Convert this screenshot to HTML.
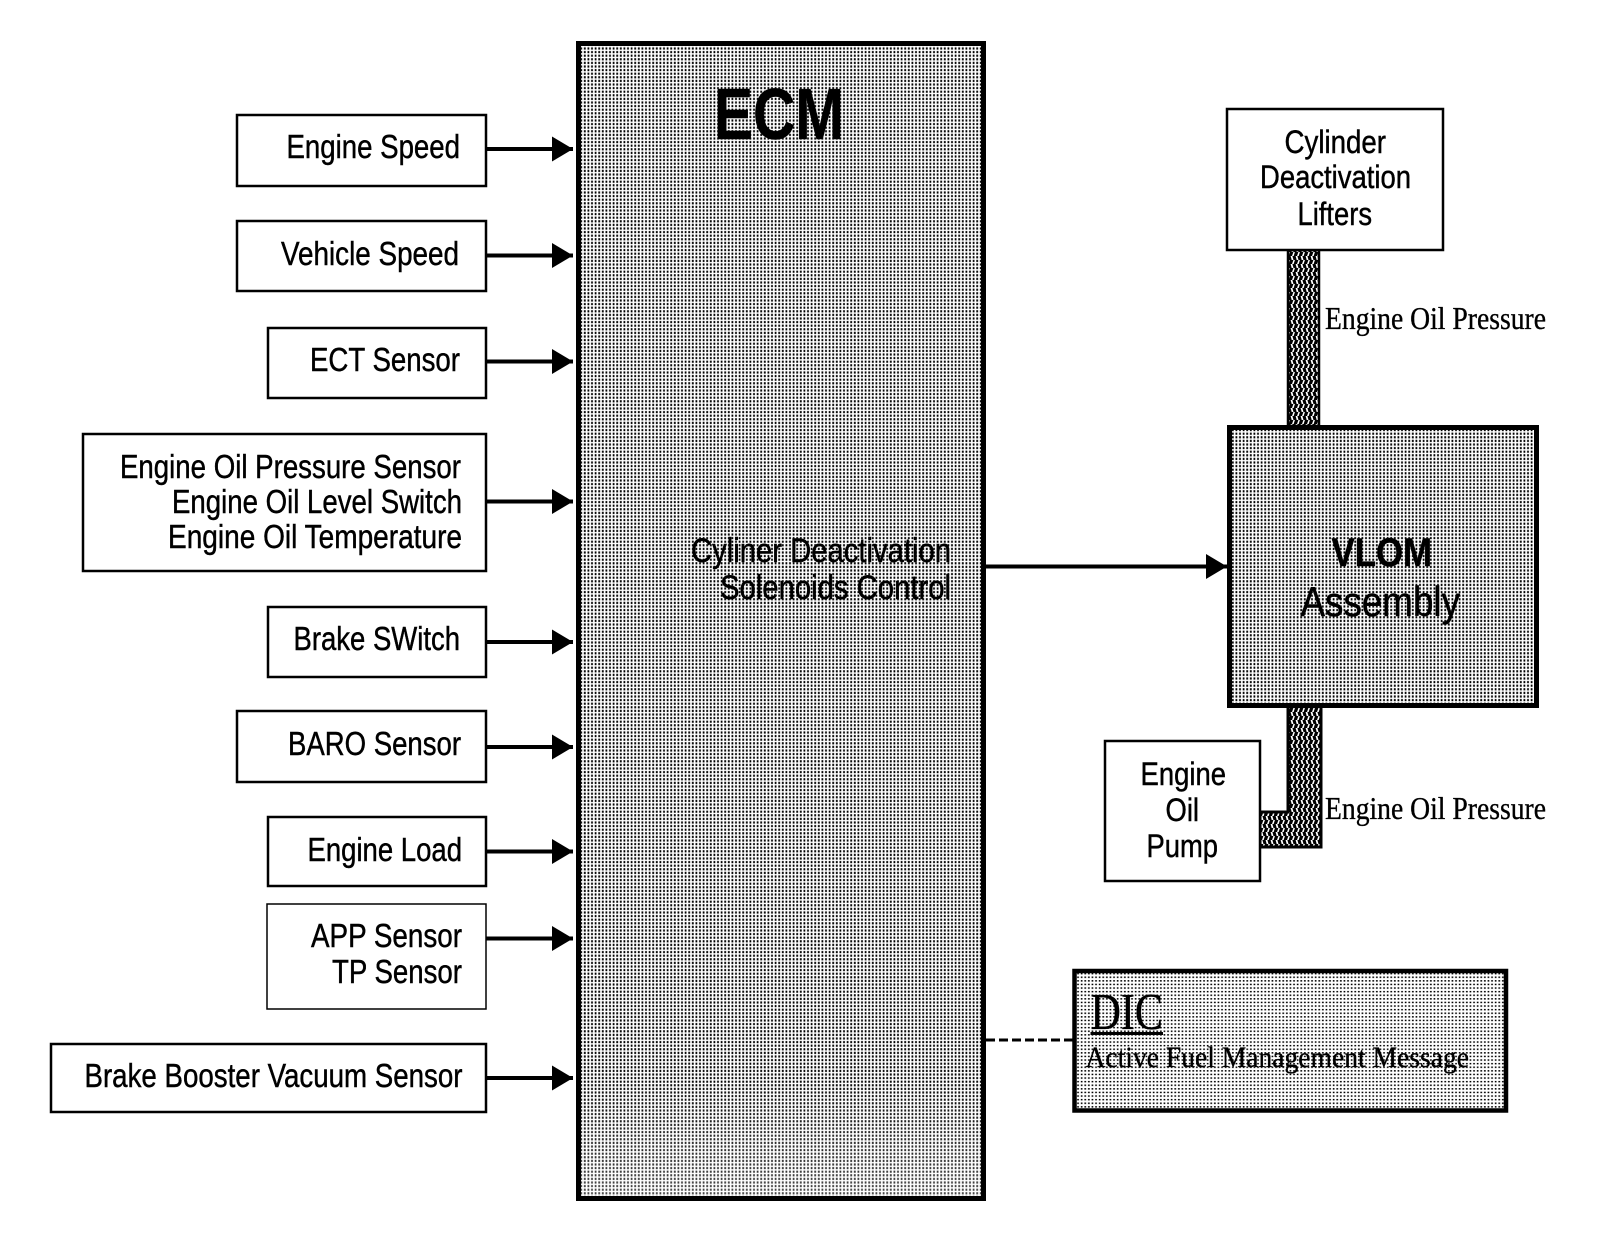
<!DOCTYPE html>
<html><head><meta charset="utf-8"><style>
html,body{margin:0;padding:0;background:#fff}
svg{display:block}
.s{font-family:"Liberation Sans",sans-serif;fill:#000;stroke:#000;stroke-width:.45}
.r{font-family:"Liberation Serif",serif;fill:#000;stroke:#000;stroke-width:.35}
</style></head><body>
<svg width="1600" height="1244" viewBox="0 0 1600 1244" xmlns="http://www.w3.org/2000/svg">
<defs>
<pattern id="m" width="3.6" height="3.6" patternUnits="userSpaceOnUse"><rect width="3.6" height="3.6" fill="#fff"/><rect x="0.7" y="0.6" width="1.8" height="2.2" fill="#000"/></pattern>
<pattern id="d" width="3.6" height="3.6" patternUnits="userSpaceOnUse"><rect width="3.6" height="3.6" fill="#fff"/><rect x="0.8" y="0.9" width="1.7" height="1.5" fill="#000"/></pattern>
<pattern id="p" width="5" height="8" patternUnits="userSpaceOnUse"><rect width="5" height="8" fill="#000"/><path d="M0.6 0h1.8l1.1 4h-1.8zM3.4 4h1.5l-1.2 4h-1.7z" fill="#fff"/></pattern>
<linearGradient id="f" x1="0" y1="0" x2="0" y2="1"><stop offset="0" stop-color="#fff" stop-opacity="0"/><stop offset="1" stop-color="#fff" stop-opacity=".28"/></linearGradient>
<marker id="a" markerUnits="userSpaceOnUse" markerWidth="22" markerHeight="26" refX="21" refY="12.5" orient="auto"><path d="M0 0L21 12.5L0 25z" fill="#000"/></marker>
</defs>
<rect width="1600" height="1244" fill="#fff"/>

<!-- ECM -->
<rect x="578.5" y="43.5" width="405" height="1155" fill="url(#m)" stroke="#000" stroke-width="5"/>
<rect x="581" y="1080" width="400" height="116" fill="url(#f)"/>
<text class="s" x="714" y="139" font-size="72" font-weight="700" textLength="130" lengthAdjust="spacingAndGlyphs" stroke-width="1">ECM</text>
<text class="s" x="691" y="562" font-size="34" textLength="260" lengthAdjust="spacingAndGlyphs">Cyliner Deactivation</text>
<text class="s" x="720" y="599" font-size="34" textLength="231" lengthAdjust="spacingAndGlyphs">Solenoids Control</text>

<!-- Input boxes -->
<g fill="#fff" stroke="#000" stroke-width="2.5">
<rect x="237" y="115" width="249" height="71"/>
<rect x="237" y="221" width="249" height="70"/>
<rect x="268" y="328" width="218" height="70"/>
<rect x="83" y="434" width="403" height="137"/>
<rect x="268" y="607" width="218" height="70"/>
<rect x="237" y="711" width="249" height="71"/>
<rect x="268" y="817" width="218" height="69"/>
<rect x="267" y="904" width="219" height="105" stroke-width="1.5"/>
<rect x="51" y="1044" width="435" height="68"/>
</g>
<g class="s" font-size="33">
<text class="s" x="286.5" y="158" textLength="173.5" lengthAdjust="spacingAndGlyphs">Engine Speed</text>
<text class="s" x="281" y="265" textLength="178" lengthAdjust="spacingAndGlyphs">Vehicle Speed</text>
<text class="s" x="310" y="371" textLength="150" lengthAdjust="spacingAndGlyphs">ECT Sensor</text>
<text class="s" x="120" y="478" textLength="341" lengthAdjust="spacingAndGlyphs">Engine Oil Pressure Sensor</text>
<text class="s" x="172" y="513" textLength="290" lengthAdjust="spacingAndGlyphs">Engine Oil Level Switch</text>
<text class="s" x="168" y="548" textLength="294" lengthAdjust="spacingAndGlyphs">Engine Oil Temperature</text>
<text class="s" x="293.5" y="650" textLength="166.5" lengthAdjust="spacingAndGlyphs">Brake SWitch</text>
<text class="s" x="288" y="755" textLength="173" lengthAdjust="spacingAndGlyphs">BARO Sensor</text>
<text class="s" x="307.5" y="861" textLength="154.5" lengthAdjust="spacingAndGlyphs">Engine Load</text>
<text class="s" x="311" y="947" textLength="151" lengthAdjust="spacingAndGlyphs">APP Sensor</text>
<text class="s" x="332" y="983" textLength="130" lengthAdjust="spacingAndGlyphs">TP Sensor</text>
<text class="s" x="84.5" y="1087" textLength="378" lengthAdjust="spacingAndGlyphs">Brake Booster Vacuum Sensor</text>
</g>

<!-- Input arrows -->
<g stroke="#000" stroke-width="4" fill="none">
<line x1="486" y1="149" x2="573" y2="149" marker-end="url(#a)"/>
<line x1="486" y1="255.5" x2="573" y2="255.5" marker-end="url(#a)"/>
<line x1="486" y1="361.5" x2="573" y2="361.5" marker-end="url(#a)"/>
<line x1="486" y1="501.5" x2="573" y2="501.5" marker-end="url(#a)"/>
<line x1="486" y1="642" x2="573" y2="642" marker-end="url(#a)"/>
<line x1="486" y1="747" x2="573" y2="747" marker-end="url(#a)"/>
<line x1="486" y1="851.5" x2="573" y2="851.5" marker-end="url(#a)"/>
<line x1="486" y1="938.5" x2="573" y2="938.5" marker-end="url(#a)"/>
<line x1="486" y1="1078" x2="573" y2="1078" marker-end="url(#a)"/>
</g>

<!-- Pipes -->
<rect x="1288" y="250" width="31" height="176" fill="url(#p)" stroke="#000" stroke-width="2.5"/>
<path d="M1288 706H1321V847H1260V812H1288Z" fill="url(#p)" stroke="#000" stroke-width="3"/>

<!-- Right boxes -->
<rect x="1227" y="109" width="216" height="141" fill="#fff" stroke="#000" stroke-width="2.5"/>
<text class="s" x="1284.5" y="153" font-size="32" textLength="101.5" lengthAdjust="spacingAndGlyphs">Cylinder</text>
<text class="s" x="1260" y="188" font-size="32" textLength="151" lengthAdjust="spacingAndGlyphs" stroke-width=".9">Deactivation</text>
<text class="s" x="1297.5" y="225" font-size="32" textLength="74.5" lengthAdjust="spacingAndGlyphs">Lifters</text>

<rect x="1229.5" y="427.5" width="307" height="278" fill="url(#m)" stroke="#000" stroke-width="5"/>
<text class="s" x="1331.5" y="566" font-size="40" font-weight="700" textLength="100.5" lengthAdjust="spacingAndGlyphs">VLOM</text>
<text class="s" x="1300.5" y="616" font-size="42" textLength="159.5" lengthAdjust="spacingAndGlyphs">Assembly</text>

<rect x="1105" y="741" width="155" height="140" fill="#fff" stroke="#000" stroke-width="2.5"/>
<text class="s" x="1140.5" y="785" font-size="32" textLength="85.5" lengthAdjust="spacingAndGlyphs">Engine</text>
<text class="s" x="1165.5" y="821" font-size="32" textLength="33.5" lengthAdjust="spacingAndGlyphs" stroke-width="1">Oil</text>
<text class="s" x="1146.5" y="857" font-size="32" textLength="71.5" lengthAdjust="spacingAndGlyphs">Pump</text>

<text class="r" x="1325" y="329" font-size="32" textLength="221" lengthAdjust="spacingAndGlyphs">Engine Oil Pressure</text>
<text class="r" x="1325" y="819" font-size="32" textLength="221" lengthAdjust="spacingAndGlyphs">Engine Oil Pressure</text>

<!-- Connectors -->
<line x1="986" y1="566.5" x2="1227" y2="566.5" stroke="#000" stroke-width="4" marker-end="url(#a)"/>
<line x1="986" y1="1040" x2="1073" y2="1040" stroke="#000" stroke-width="3" stroke-dasharray="9 4"/>

<!-- DIC -->
<rect x="1074.5" y="971" width="431.5" height="139.5" fill="url(#d)" stroke="#000" stroke-width="4.5"/>
<text class="r" x="1090.5" y="1029" font-size="52" textLength="72.5" lengthAdjust="spacingAndGlyphs">DIC</text>
<rect x="1090.5" y="1032" width="72.5" height="3" fill="#000"/>
<text class="r" x="1085.5" y="1067" font-size="30" textLength="383.5" lengthAdjust="spacingAndGlyphs" stroke-width=".5">Active Fuel Management Message</text>
</svg>
</body></html>
